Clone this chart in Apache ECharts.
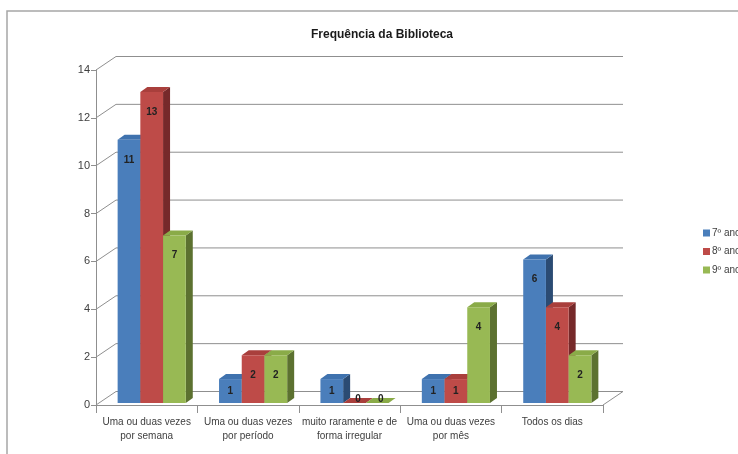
<!DOCTYPE html>
<html>
<head>
<meta charset="utf-8">
<script src="https://cdn.jsdelivr.net/npm/echarts@6/dist/echarts.min.js"></script>
<style>
  html, body { margin: 0; padding: 0; background: #fff; }
  #chart { width: 738px; height: 454px; }
</style>
</head>
<body>
<div id="chart"></div>
<script>
// Categories and values per school year
const categories = [
  'Uma ou duas vezes\npor semana',
  'Uma ou duas vezes\npor período',
  'muito raramente e de\nforma irregular',
  'Uma ou duas vezes\npor mês',
  'Todos os dias'
];
const seriesNames = ['7º ano', '8º ano', '9º ano'];
const ano7 = [11, 1, 1, 1, 6];
const ano8 = [13, 2, 0, 1, 4];
const ano9 = [7, 2, 0, 4, 2];
const yTicks = [0, 2, 4, 6, 8, 10, 12, 14];

// Face colours: front, top, side
const palettes = [
  { front: '#4a7ebb', top: '#3f72ae', side: '#2b4b73' },
  { front: '#be4b48', top: '#a93f3c', side: '#76292a' },
  { front: '#98b954', top: '#8aab48', side: '#5c7130' }
];

const FONT = 'Liberation Sans';
const WALL_DX = 20, WALL_DY = -13.5;   // oblique depth of the back wall
const BAR_DX = 7, BAR_DY = -5;         // depth of each column
const FRONT_DX = 5, FRONT_DY = -2;     // columns sit slightly behind the floor edge

function wallRender(params, api) {
  const cs = params.coordSys;
  const v = api.value(0);
  const p = api.coord([0, v]);
  const xl = cs.x, xr = cs.x + cs.width, y = p[1];
  const pts = [[xl, y], [xl + WALL_DX, y + WALL_DY], [xr + WALL_DX, y + WALL_DY]];
  if (v === 0) pts.push([xr, y]);
  return {
    type: 'polyline',
    shape: { points: pts },
    style: { stroke: '#8f8f8f', lineWidth: 1, fill: null }
  };
}

function barRender(idx) {
  const pal = palettes[idx];
  return function (params, api) {
    const cat = api.value(0), v = api.value(1);
    const base = api.coord([cat, 0]);
    const topP = api.coord([cat, v]);
    const band = api.size([1, 0])[0];
    const bw = band * 0.224;
    const x0 = base[0] - 1.5 * bw + idx * bw + FRONT_DX;
    const x1 = x0 + bw;
    const yb = base[1] + FRONT_DY;
    const yt = topP[1] + FRONT_DY;
    const h = yb - yt;
    let ly = yt + Math.min(h / 2, 20);
    let lx = (x0 + x1) / 2;
    if (h < 1) { lx += BAR_DX / 2; ly = yb + BAR_DY / 2 - 1.5; }
    return {
      type: 'group',
      children: [
        { type: 'polygon', shape: { points: [[x1, yb], [x1 + BAR_DX, yb + BAR_DY], [x1 + BAR_DX, yt + BAR_DY], [x1, yt]] },
          style: { fill: pal.side } },
        { type: 'polygon', shape: { points: [[x0, yt], [x0 + BAR_DX, yt + BAR_DY], [x1 + BAR_DX, yt + BAR_DY], [x1, yt]] },
          style: { fill: pal.top } },
        { type: 'rect', shape: { x: x0, y: yt, width: bw, height: h },
          style: { fill: pal.front } },
        { type: 'text', x: lx, y: ly,
          style: { text: String(v), fill: '#222222', font: 'bold 10px ' + FONT, align: 'center', verticalAlign: 'middle' } }
      ]
    };
  };
}

const yearData = [ano7, ano8, ano9];
const barSeries = seriesNames.map((name, i) => ({
  name: name,
  type: 'custom',
  z: 3 + i,
  itemStyle: { color: palettes[i].front },
  renderItem: barRender(i),
  data: yearData[i].map((v, c) => [c, v])
}));

const chart = echarts.init(document.getElementById('chart'), null, { renderer: 'canvas' });
chart.setOption({
  animation: false,
  backgroundColor: '#ffffff',
  title: {
    text: 'Frequência da Biblioteca',
    left: 306, top: 24,
    textStyle: { fontFamily: FONT, fontSize: 12, fontWeight: 'bold', color: '#1a1a1a' }
  },
  legend: {
    data: seriesNames,
    orient: 'vertical',
    left: 698, top: 223,
    icon: 'rect',
    itemWidth: 7, itemHeight: 7, itemGap: 8.5,
    textStyle: { fontFamily: FONT, fontSize: 10, color: '#404040', padding: [0, 0, 0, -3] }
  },
  graphic: [{
    type: 'rect', silent: true, z: 0,
    shape: { x: 7, y: 11, width: 800, height: 520 },
    style: { fill: null, stroke: '#a6a6a6', lineWidth: 1.5 }
  }],
  grid: { left: 96, right: 135, top: 70, bottom: 49 },
  xAxis: {
    type: 'category',
    data: categories,
    axisLine: { show: true, lineStyle: { color: '#8f8f8f' } },
    axisTick: { show: true, length: 8, lineStyle: { color: '#8f8f8f' } },
    axisLabel: { interval: 0, fontFamily: FONT, fontSize: 10, color: '#404040', lineHeight: 14, margin: 10 },
    splitLine: { show: false }
  },
  yAxis: {
    type: 'value',
    min: 0, max: 14, interval: 2,
    axisLine: { show: true, lineStyle: { color: '#8f8f8f' } },
    axisTick: { show: true, length: 5, lineStyle: { color: '#8f8f8f' } },
    axisLabel: { fontFamily: FONT, fontSize: 11, color: '#404040', margin: 6 },
    splitLine: { show: false }
  },
  series: [{
    name: 'grade',
    type: 'custom',
    silent: true,
    z: 1,
    renderItem: wallRender,
    data: yTicks.map(v => [v])
  }].concat(barSeries)
});
</script>
</body>
</html>
